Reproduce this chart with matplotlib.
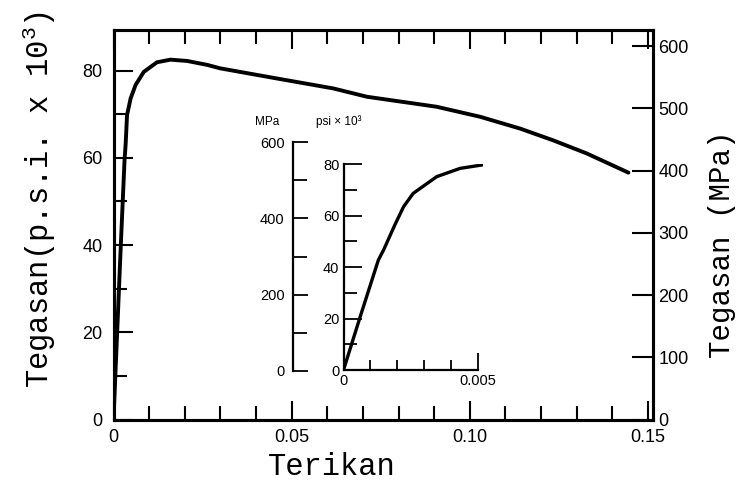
import matplotlib
matplotlib.use('Agg')
import matplotlib.pyplot as plt
from matplotlib.ticker import MultipleLocator

# main stress-strain curve (strain, ksi)
strain = [0, 0.002, 0.0031, 0.0034, 0.0038, 0.0048, 0.0062, 0.0085, 0.0122, 0.016,
          0.0207, 0.0263, 0.030, 0.043, 0.0617, 0.0711, 0.0907, 0.1029, 0.1141,
          0.1234, 0.1328, 0.1445]
stress = [0, 39, 59.5, 63, 69.8, 73.6, 76.7, 79.7, 81.9, 82.5,
          82.2, 81.3, 80.5, 78.6, 75.9, 74.0, 71.7, 69.4, 66.7,
          64.0, 61.0, 56.6]

# inset: elastic region
in_strain = [0, 0.00062, 0.0013, 0.0015, 0.0019, 0.00224, 0.0026, 0.00348, 0.00435, 0.00515]
in_stress = [0, 20.6, 42.7, 46.7, 56, 63.4, 68.6, 75.1, 78.3, 79.6]

x_ticks = [0, 0.05, 0.10, 0.15]
x_labels = ['0', '0.05', '0.10', '0.15']
ksi_ticks = [0, 20, 40, 60, 80]
mpa_ticks = [0, 100, 200, 300, 400, 500, 600]
in_mpa_ticks = [0, 200, 400, 600]
in_x_ticks = [0, 0.005]
in_x_labels = ['0', '0.005']

plt.rcParams['font.family'] = 'Liberation Sans'
plt.rcParams['mathtext.fontset'] = 'custom'
plt.rcParams['mathtext.rm'] = 'Liberation Mono'
plt.rcParams['mathtext.it'] = 'Liberation Mono'

W, H = 738, 482
fig = plt.figure(figsize=(W / 100, H / 100), dpi=100)


def box(x0, y0, x1, y1):
    # pixel box (y measured from top) -> figure fraction rect
    return [x0 / W, 1 - y1 / H, (x1 - x0) / W, (y1 - y0) / H]


############### main axes
ax = fig.add_axes(box(113.5, 30, 653, 419.5))
ax.plot(strain, stress, color='black', lw=2.8, solid_capstyle='round')
ax.set_xlim(0, 0.1514)
ax.set_ylim(0, 89.3)
ax.set_xticks(x_ticks)
ax.set_xticklabels(x_labels)
ax.xaxis.set_minor_locator(MultipleLocator(0.01))
ax.set_yticks(ksi_ticks)
ax.yaxis.set_minor_locator(MultipleLocator(10))
ax.tick_params(which='both', direction='in', top=True, right=False, width=1.5)
ax.tick_params(axis='x', which='major', length=14, pad=7, labelsize=13)
ax.tick_params(axis='x', which='minor', length=10)
ax.tick_params(axis='y', which='major', length=14, pad=8, labelsize=13)
ax.tick_params(axis='y', which='minor', length=9)
for s in ax.spines.values():
    s.set_linewidth(2.2)

ax2 = ax.twinx()
ax2.set_ylim(0, 626)
ax2.set_yticks(mpa_ticks)
ax2.tick_params(direction='in', length=15, width=1.5, pad=4, labelsize=13)
for s in ax2.spines.values():
    s.set_linewidth(2.2)

############### inset (psi x 10^3)
axi = fig.add_axes(box(343.5, 164, 482.9, 370))
axi.set_facecolor('none')
axi.plot(in_strain, in_stress, color='black', lw=2.4)
axi.set_xlim(0, 0.0052)
axi.set_ylim(0, 80)
axi.spines['top'].set_visible(False)
axi.spines['right'].set_visible(False)
axi.spines['bottom'].set_bounds(0, 0.005)
for s in ('left', 'bottom'):
    axi.spines[s].set_linewidth(1.6)
axi.set_xticks(in_x_ticks)
axi.set_xticklabels(in_x_labels)
axi.xaxis.set_minor_locator(MultipleLocator(0.001))
axi.set_yticks(ksi_ticks)
axi.yaxis.set_minor_locator(MultipleLocator(10))
axi.tick_params(which='both', direction='in', width=1.3, labelsize=10.5)
axi.tick_params(axis='y', which='major', length=13, pad=3)
axi.tick_params(axis='y', which='minor', length=9)
axi.tick_params(axis='x', which='major', length=12, pad=3)
axi.tick_params(axis='x', which='minor', length=7)

############### inset MPa scale
axm = fig.add_axes(box(293, 142, 300, 371))
axm.set_facecolor('none')
axm.set_ylim(0, 600)
for s in ('top', 'right', 'bottom'):
    axm.spines[s].set_visible(False)
axm.spines['left'].set_linewidth(1.6)
axm.set_xticks([])
axm.set_yticks(in_mpa_ticks)
axm.yaxis.set_minor_locator(MultipleLocator(100))
axm.tick_params(axis='y', which='both', direction='in', width=1.3, labelsize=10.5, pad=6)
axm.tick_params(axis='y', which='major', length=11)
axm.tick_params(axis='y', which='minor', length=10)

fig.text(267 / W, 1 - 122 / H, 'MPa', fontsize=8.5, ha='center', va='center')
fig.text(316 / W, 1 - 122 / H, 'psi \u00d7 10\u00b3', fontsize=8.5, ha='left', va='center')

############### axis labels
fig.text(39 / W, 1 - 200 / H, r'Tegasan(p.s.i. x 10$^3$)', rotation=90,
         ha='center', va='center', fontfamily='Liberation Mono', fontsize=22)
fig.text(722 / W, 1 - 244 / H, 'Tegasan (MPa)', rotation=90,
         ha='center', va='center', fontfamily='Liberation Mono', fontsize=21)
fig.text(332 / W, 7 / H, 'Terikan', ha='center', va='baseline',
         fontfamily='Liberation Mono', fontsize=22)

fig.savefig('out.png', dpi=100)
